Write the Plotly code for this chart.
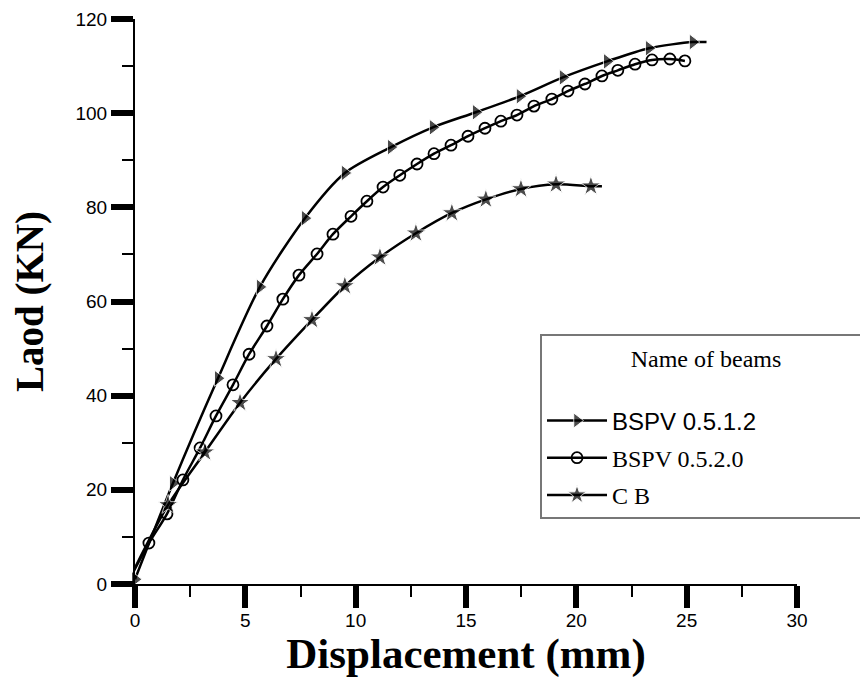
import plotly.graph_objects as go

# ---- data ----
tri_x = [0.0, 1.72, 3.76, 5.66, 7.70, 9.51, 11.6, 13.5, 15.45, 17.44, 19.39, 21.39, 23.29, 25.28, 25.9]
tri_y = [1.0, 21.4, 43.7, 63.1, 77.7, 87.3, 92.8, 97.0, 100.2, 103.6, 107.6, 111.0, 113.8, 115.1, 115.1]

circ_x = [-0.05, 0.63, 1.45, 2.17, 2.95, 3.67, 4.44, 5.17, 5.98, 6.70, 7.43, 8.25, 8.97, 9.79,
          10.51, 11.24, 12.00, 12.78, 13.55, 14.32, 15.09, 15.86, 16.58, 17.31, 18.08, 18.89,
          19.62, 20.39, 21.16, 21.88, 22.66, 23.43, 24.24, 24.92]
circ_y = [2.8, 8.7, 14.9, 22.1, 28.9, 35.7, 42.3, 48.8, 54.8, 60.5, 65.6, 70.1, 74.3, 78.1,
          81.3, 84.3, 86.8, 89.2, 91.4, 93.2, 95.1, 96.8, 98.3, 99.6, 101.5, 103.0,
          104.7, 106.2, 107.9, 109.1, 110.4, 111.3, 111.5, 111.1]

star_x = [-0.05, 1.5, 3.17, 4.76, 6.39, 8.02, 9.51, 11.1, 12.73, 14.36, 15.9, 17.49, 19.08, 20.66, 21.16]
star_y = [3.0, 16.8, 28.0, 38.5, 47.8, 56.1, 63.3, 69.4, 74.5, 78.8, 81.7, 83.9, 84.9, 84.5, 84.5]

names = ["BSPV 0.5.1.2", "BSPV 0.5.2.0", "C B"]
legend_title = "Name of beams"

SANS = "Liberation Sans, Arial, sans-serif"
SERIF = "Liberation Serif, Times New Roman, serif"

fig = go.Figure()

def sizes(n, s, last_hidden):
    out = [s] * n
    if last_hidden:
        out[-1] = 0
    return out

pad = "&nbsp;" * 18  # widens the legend box past the right edge like the reference

fig.add_trace(go.Scatter(
    x=tri_x, y=tri_y, mode="lines+markers",
    name=f'<span style="font-family:{SANS}">{names[0]}</span>{pad}',
    legendgroup="a",
    line=dict(color="black", width=2.5, shape="spline", smoothing=0.8),
    marker=dict(symbol="triangle-right", size=sizes(len(tri_x), 14, True), color="black"),
    cliponaxis=False,
))
fig.add_trace(go.Scatter(
    x=circ_x, y=circ_y, mode="lines+markers",
    name=names[1], legendgroup="b",
    line=dict(color="black", width=2.5, shape="spline", smoothing=0.8),
    marker=dict(symbol="circle-open", size=11, color="black", line=dict(width=1.8, color="black")),
    cliponaxis=False,
))
fig.add_trace(go.Scatter(
    x=star_x, y=star_y, mode="lines+markers",
    name=names[2], legendgroup="c",
    line=dict(color="black", width=2.5, shape="spline", smoothing=0.8),
    marker=dict(symbol="star", size=sizes(len(star_x), 15, True), color="black"),
    cliponaxis=False,
))

axis_common = dict(
    showline=True, linecolor="black", linewidth=2, mirror=False,
    showgrid=False, zeroline=False,
    ticks="outside", ticklen=22, tickwidth=6, tickcolor="black",
    tickfont=dict(family=SANS, size=19, color="black"),
)

fig.update_xaxes(
    range=[0, 30], tickmode="linear", tick0=0, dtick=5,
    minor=dict(ticks="outside", ticklen=11, tickwidth=2, tickcolor="black", dtick=2.5, tick0=0),
    ticklabelstandoff=-4,
    title=dict(text="Displacement (mm)", font=dict(family=SERIF, size=43, color="black", weight="bold"),
               standoff=12),
    **axis_common,
)
fig.update_yaxes(
    range=[0, 120], tickmode="linear", tick0=0, dtick=20,
    minor=dict(ticks="outside", ticklen=11, tickwidth=2, tickcolor="black", dtick=10, tick0=0),
    title=dict(text="Laod (KN)", font=dict(family=SERIF, size=39, color="black", weight="bold"),
               standoff=20),
    **axis_common,
)

fig.update_layout(
    width=860, height=678,
    margin=dict(l=135, r=63, t=19, b=94, autoexpand=False),
    paper_bgcolor="white", plot_bgcolor="white",
    showlegend=True,
    legend=dict(
        x=0.6118, y=0.4425, xanchor="left", yanchor="top",
        bgcolor="white", bordercolor="#777777", borderwidth=2,
        font=dict(family=SERIF, size=24, color="black"),
        title=dict(text=legend_title + "<br>&nbsp;", side="top center",
                   font=dict(family=SERIF, size=24, color="black")),
        tracegroupgap=3,
        itemwidth=60,
    ),
)

fig.write_html("out.html")
